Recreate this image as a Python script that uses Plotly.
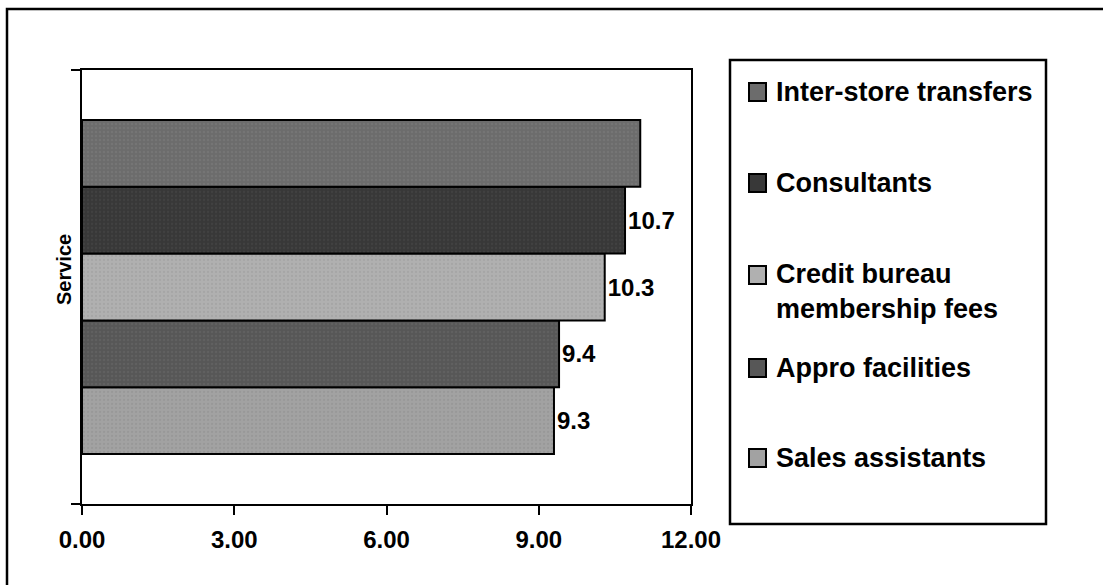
import plotly.graph_objects as go

# Series, listed bottom bar first
series = ["Sales assistants", "Appro facilities", "Credit bureau<br>membership fees",
          "Consultants", "Inter-store transfers"]
values = [9.3, 9.4, 10.3, 10.7, 11.0]
show_value = [True, True, True, True, False]
colors = ["#a2a2a2", "#575757", "#b0b0b0", "#383838", "#6c6c6c"]
grain = ["#8e8e8e", "#6a6a6a", "#9c9c9c", "#4a4a4a", "#7e7e7e"]

x_ticks = [0, 3, 6, 9, 12]
axis_title = "Service"

W, H = 1103, 585
L, R, T, B = 82, 691, 70, 504  # plot area in pixels


def px(x):
    return (x - L) / (R - L)


def py(y):
    return (B - y) / (B - T)


FONT = "Liberation Sans, Arial, sans-serif"

fig = go.Figure()
for name, v, show, c, g in zip(series, values, show_value, colors, grain):
    fig.add_trace(go.Bar(
        y=[0], x=[v], orientation="h", name=name,
        marker=dict(color=c, line=dict(color="black", width=2),
                    pattern=dict(shape=".", fgcolor=g, size=4, solidity=0.25)),
        text=[f"{v:.1f}" if show else ""],
        textposition="outside", constraintext="none", cliponaxis=False,
        textfont=dict(family=FONT, size=24, color="black", weight="bold"),
        showlegend=False,
    ))

fig.update_layout(
    width=W, height=H,
    margin=dict(l=L, r=W - R, t=T, b=H - B, pad=0),
    paper_bgcolor="white", plot_bgcolor="white",
    barmode="group", bargap=0.23, bargroupgap=0,
    xaxis=dict(range=[0, 12], tickvals=x_ticks, tickformat=".2f",
               showline=True, linecolor="black", linewidth=2, mirror=True,
               ticks="outside", ticklen=9, tickwidth=2, tickcolor="black",
               ticklabelstandoff=4,
               showgrid=False, zeroline=False,
               tickfont=dict(family=FONT, size=24, color="black", weight="bold")),
    yaxis=dict(range=[-0.5, 0.5], tickvals=[-0.5, 0.5], showticklabels=False,
               showline=True, linecolor="black", linewidth=2, mirror=True,
               ticks="outside", ticklen=9, tickwidth=2, tickcolor="black",
               showgrid=False, zeroline=False),
    font=dict(family=FONT, color="black"),
)

shapes = []
# outer chart frame
shapes.append(dict(type="rect", xref="paper", yref="paper",
                   x0=px(7), x1=px(1115), y0=py(600), y1=py(9),
                   line=dict(color="black", width=2.5), fillcolor="rgba(0,0,0,0)"))
# legend frame
shapes.append(dict(type="rect", xref="paper", yref="paper",
                   x0=px(730), x1=px(1046), y0=py(524), y1=py(60),
                   line=dict(color="black", width=2.5), fillcolor="white", layer="below"))

annotations = []
# legend entries, top to bottom
legend_rows = [(4, 92, 92), (3, 183, 183), (2, 275, 291), (1, 368, 368), (0, 458, 458)]
for idx, ysq, ytxt in legend_rows:
    shapes.append(dict(type="rect", xref="paper", yref="paper",
                       x0=px(749), x1=px(766), y0=py(ysq + 9), y1=py(ysq - 9),
                       line=dict(color="black", width=2), fillcolor=colors[idx]))
    annotations.append(dict(xref="paper", yref="paper", x=px(774), y=py(ytxt),
                            xanchor="left", yanchor="middle", showarrow=False,
                            text=series[idx], align="left",
                            font=dict(family=FONT, size=27, color="black", weight="bold")))

annotations.append(dict(xref="paper", yref="paper", x=px(64), y=py(270),
                        textangle=-90, showarrow=False, text=axis_title,
                        xanchor="center", yanchor="middle",
                        font=dict(family=FONT, size=20, color="black", weight="bold")))

fig.update_layout(shapes=shapes, annotations=annotations)
fig.write_html("out.html")
